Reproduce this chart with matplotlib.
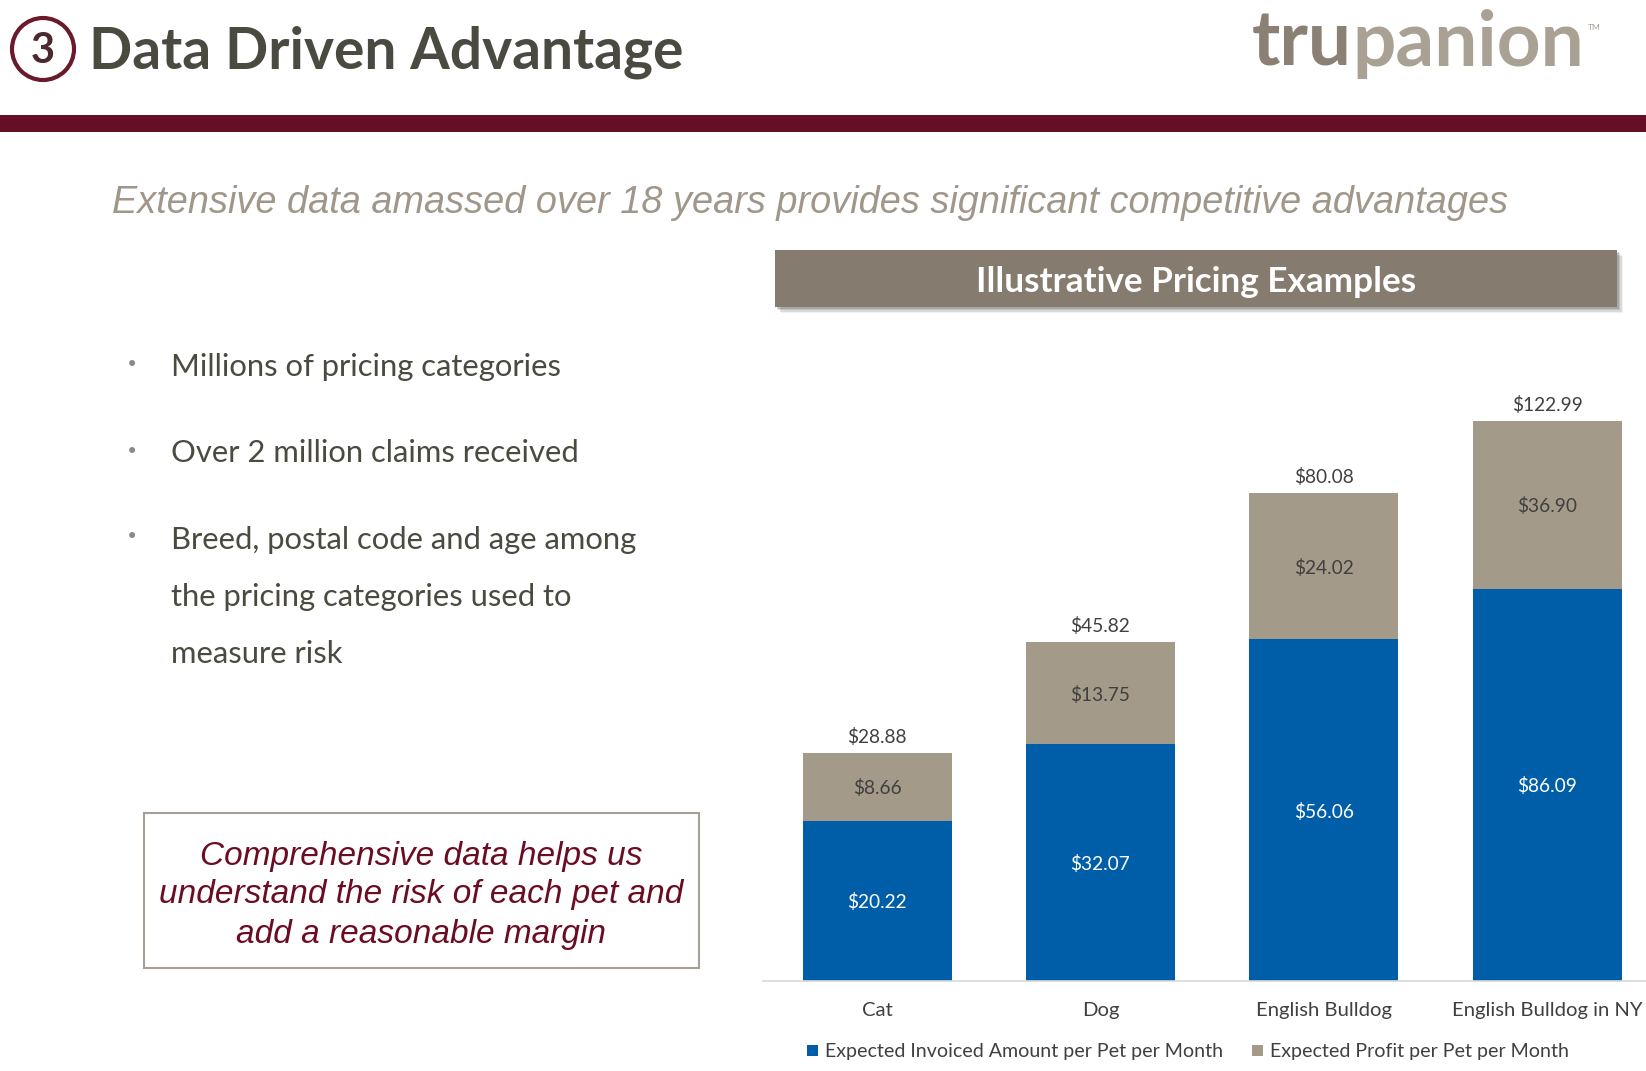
import matplotlib
matplotlib.use("Agg")
import matplotlib.pyplot as plt
from matplotlib.patches import Rectangle, Ellipse

# ---------------- data ----------------
categories = ["Cat", "Dog", "English Bulldog", "English Bulldog in NY"]
invoiced = [20.22, 32.07, 56.06, 86.09]
profit = [8.66, 13.75, 24.02, 36.90]
totals = [28.88, 45.82, 80.08, 122.99]
# bar heights as drawn in the (illustrative, not to scale) source chart
invoiced_drawn = [159.7, 236.4, 341.4, 391.7]
profit_drawn = [68.3, 102.0, 146.0, 168.3]
series_names = ["Expected Invoiced Amount per Pet per Month",
                "Expected Profit per Pet per Month"]
bullets = ["Millions of pricing categories",
           "Over 2 million claims received",
           "Breed, postal code and age among",
           "the pricing categories used to",
           "measure risk"]
box_lines = ["Comprehensive data helps us",
             "understand the risk of each pet and",
             "add a reasonable margin"]

# ---------------- figure ----------------
W, H, DPI = 1646, 1071, 100
fig = plt.figure(figsize=(W / DPI, H / DPI), dpi=DPI)
fig.patch.set_facecolor("white")
renderer = fig.canvas.get_renderer()


def fx(x):
    return x / W


def fy(y):
    return 1 - y / H


def width_of(text, size, **kw):
    t = fig.text(0, 0, text, fontsize=size, **kw)
    w = t.get_window_extent(renderer).width
    t.remove()
    return w


def size_for(text, target_w, **kw):
    return 20 * target_w / width_of(text, 20, **kw)


MAROON = "#660e26"
BLUE = "#005ea8"
TAN = "#a39a8a"
DARK = "#4b4a40"

# header
fig.add_artist(Rectangle((0, fy(132.3)), 1, (132.3 - 115.5) / H,
                         transform=fig.transFigure, color=MAROON, lw=0))
fig.add_artist(Ellipse((fx(43), fy(49)), 62 / W, 62 / H, transform=fig.transFigure,
                       fill=False, edgecolor="#6b1a2c", lw=3))
fig.text(fx(43), fy(51), "3", fontsize=30, fontweight="bold", color="#4a2a2e",
         ha="center", va="center", family="Lato")
ts = size_for("Data Driven Advantage", 594, family="Lato", fontweight="bold")
fig.text(fx(89), fy(52), "Data Driven Advantage", fontsize=ts, fontweight="bold",
         family="Lato", color=DARK, ha="left", va="center")

# logo (two-tone)
ls = size_for("trupanion", 332, family="Lato", fontweight="bold")
w_tru = width_of("tru", ls, family="Lato", fontweight="bold")
fig.text(fx(1252), fy(66), "tru", fontsize=ls, family="Lato", fontweight="bold",
         color="#8a8174", ha="left", va="baseline")
fig.text(fx(1252) + w_tru / W, fy(66), "panion", fontsize=ls, family="Lato",
         fontweight="bold", color="#a9a194", ha="left", va="baseline")
fig.text(fx(1588), fy(27), "TM", fontsize=6, family="Lato", color="#a9a194",
         ha="left", va="center")

# subtitle
sub = "Extensive data amassed over 18 years provides significant competitive advantages"
ss = size_for(sub, 1390, family="Liberation Sans", style="italic")
fig.text(fx(112), fy(203), sub, fontsize=ss, family="Liberation Sans", style="italic",
         color="#a0978a", ha="left", va="center")

# header box for chart with shadow
for i, a in enumerate([0.08, 0.12, 0.16, 0.2]):
    off = 6 - i * 1.3
    fig.add_artist(Rectangle((fx(775 + off), fy(307 + off)), (1617 - 775) / W, 57 / H,
                             transform=fig.transFigure, color="#404040", alpha=a, lw=0))
fig.add_artist(Rectangle((fx(775), fy(307)), (1617 - 775) / W, 57 / H,
                         transform=fig.transFigure, color="#857c6f", lw=0))
hs = size_for("Illustrative Pricing Examples", 441, family="Lato", fontweight="bold")
fig.text(fx(1196), fy(282), "Illustrative Pricing Examples", fontsize=hs,
         family="Lato", fontweight="bold", color="white", ha="center", va="center")

# bullets
bs = size_for(bullets[1], 410, family="Lato")
bullet_y = [367, 453.5, 539.5, 597, 654]
for txt, yy in zip(bullets, bullet_y):
    fig.text(fx(171), fy(yy), txt, fontsize=bs, family="Lato", color=DARK,
             ha="left", va="center")
for yy in bullet_y[:3]:
    fig.text(fx(132), fy(yy - 2), "\u2022", fontsize=15, color="#8a8a8a",
             ha="center", va="center", family="DejaVu Sans")

# callout box
fig.add_artist(Rectangle((fx(144), fy(968)), (699 - 144) / W, (968 - 813) / H,
                         transform=fig.transFigure, fill=False,
                         edgecolor="#a8a092", lw=1.5))
cs = size_for(box_lines[1], 521, family="Liberation Sans", style="italic")
for txt, yy in zip(box_lines, [857, 895, 934]):
    fig.text(fx(421), fy(yy), txt, fontsize=cs, family="Liberation Sans",
             style="italic", color="#6b0d22", ha="center", va="center")

# ---------------- chart ----------------
ax = fig.add_axes([fx(763), fy(980.7), 1 - fx(763), (980.7 - 380) / H])
ax.set_facecolor("none")
x = list(range(len(categories)))
bw = 0.667
b1 = ax.bar(x, invoiced_drawn, width=bw, color=BLUE, label=series_names[0])
b2 = ax.bar(x, profit_drawn, width=bw, bottom=invoiced_drawn, color=TAN,
            label=series_names[1])
ax.set_xlim(-0.511, 3.443)
ax.set_ylim(0, 600.7)

dls = size_for("$28.88", 60, family="Lato")
for i in x:
    ax.text(i, invoiced_drawn[i] / 2, f"${invoiced[i]:.2f}", ha="center",
            va="center_baseline", color="white", fontsize=dls, family="Lato")
    ax.text(i, invoiced_drawn[i] + profit_drawn[i] / 2, f"${profit[i]:.2f}",
            ha="center", va="center_baseline", color="#404040", fontsize=dls,
            family="Lato")
    ax.annotate(f"${totals[i]:.2f}", (i, invoiced_drawn[i] + profit_drawn[i]),
                xytext=(0, 12.5), textcoords="offset points", ha="center",
                va="center_baseline", color="#404040", fontsize=dls, family="Lato")

for s in ["top", "right", "left"]:
    ax.spines[s].set_visible(False)
ax.spines["bottom"].set_color("#d9d9d9")
ax.spines["bottom"].set_linewidth(1.2)
ax.set_yticks([])
cls = size_for("English Bulldog in NY", 191, family="Lato")
ax.set_xticks(x, categories, fontsize=cls, family="Lato", color="#404040")
ax.tick_params(axis="x", length=0, pad=15)

lgs = size_for(series_names[0], 398, family="Lato")
leg = ax.legend(handles=[b1, b2], loc="center", ncol=2, frameon=False,
                bbox_to_anchor=(fx(1188), fy(1052)), bbox_transform=fig.transFigure,
                prop={"family": "Lato", "size": lgs}, handlelength=0.55,
                handleheight=0.55, handletextpad=0.35, columnspacing=1.5)
for t in leg.get_texts():
    t.set_color("#404040")

fig.savefig("out.png", dpi=DPI, facecolor="white")
